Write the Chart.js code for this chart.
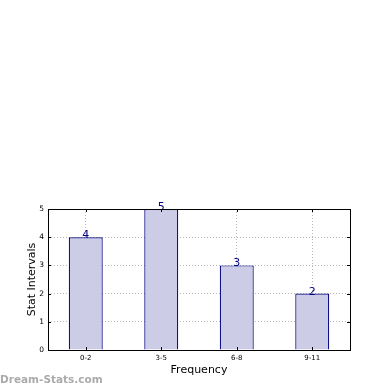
<!DOCTYPE html>
<html>
<head>
<meta charset="utf-8">
<script src="https://cdn.jsdelivr.net/npm/chart.js@4.4.1/dist/chart.umd.min.js"></script>
<style>
  body { margin: 0; background: #fff; }
  #wrap { position: relative; width: 390px; height: 390px; }
  #mark { position: absolute; left: 0; top: 373px; font: bold 10.5px "DejaVu Sans", sans-serif; color: #ababab; }
</style>
</head>
<body>
<div id="wrap">
  <canvas id="c" width="390" height="390"></canvas>
  <div id="mark">Dream-Stats.com</div>
</div>
<script>
// valores
var categorias = ['0-2', '3-5', '6-8', '9-11'];
var valores = [4, 5, 3, 2];
var yTicks = [0, 1, 2, 3, 4, 5];

var azul = '#000080';

// rótulos acima das barras + moldura do gráfico
var rotulos = {
    id: 'rotulos',
    afterDatasetsDraw: function(chart) {
        var ctx = chart.ctx;
        var meta = chart.getDatasetMeta(0);
        ctx.save();
        ctx.fillStyle = azul;
        ctx.font = '11px "DejaVu Sans"';
        ctx.textAlign = 'center';
        ctx.textBaseline = 'alphabetic';
        meta.data.forEach(function(bar, i) {
            ctx.fillText(String(valores[i]), bar.x, bar.y + 1);
        });
        ctx.restore();
    },
    afterDraw: function(chart) {
        var a = chart.chartArea;
        var ctx = chart.ctx;
        ctx.save();
        ctx.strokeStyle = '#000';
        ctx.lineWidth = 1;
        ctx.strokeRect(Math.round(a.left) + 0.5, Math.round(a.top) + 0.5, Math.round(a.right - a.left), Math.round(a.bottom - a.top));
        // marcas internas dos ticks
        var y = chart.scales.y, x = chart.scales.x;
        ctx.beginPath();
        yTicks.forEach(function(v) {
            var py = Math.round(y.getPixelForValue(v)) + 0.5;
            ctx.moveTo(a.left, py); ctx.lineTo(a.left + 3, py);
            ctx.moveTo(a.right, py); ctx.lineTo(a.right - 3, py);
        });
        categorias.forEach(function(c, i) {
            var px = Math.round(x.getPixelForValue(i)) + 0.5;
            ctx.moveTo(px, a.bottom); ctx.lineTo(px, a.bottom - 3);
            ctx.moveTo(px, a.top); ctx.lineTo(px, a.top + 3);
        });
        ctx.stroke();
        ctx.restore();
    }
};

new Chart(document.getElementById('c'), {
    type: 'bar',
    data: {
        labels: categorias,
        datasets: [{
            data: valores,
            backgroundColor: '#cccce6',
            borderColor: azul,
            borderWidth: 1.2,
            barPercentage: 0.9,
            categoryPercentage: 0.5
        }]
    },
    options: {
        responsive: false,
        animation: false,
        layout: { padding: { top: 209, right: 40, left: 26, bottom: 13 } },
        plugins: { legend: { display: false }, tooltip: { enabled: false } },
        scales: {
            x: {
                z: 1,
                afterFit: function(s) { s.height = 27; },
                grid: { color: '#b8b8b8', drawTicks: false, offset: false },
                border: { display: false, dash: [1, 2] },
                ticks: { color: '#000', font: { family: 'DejaVu Sans', size: 7 }, padding: 4 },
                title: { display: true, text: 'Frequency', color: '#000', font: { family: 'DejaVu Sans', size: 11 }, padding: 0 }
            },
            y: {
                z: 1,
                min: 0, max: 5,
                afterFit: function(s) { s.width = 22; },
                grid: { color: '#b8b8b8', drawTicks: false },
                border: { display: false, dash: [1, 2] },
                ticks: { stepSize: 1, color: '#000', font: { family: 'DejaVu Sans', size: 7.5 }, padding: 4 },
                title: { display: true, text: 'Stat Intervals', color: '#000', font: { family: 'DejaVu Sans', size: 11 }, padding: 0 }
            }
        }
    },
    plugins: [rotulos]
});
</script>
</body>
</html>
